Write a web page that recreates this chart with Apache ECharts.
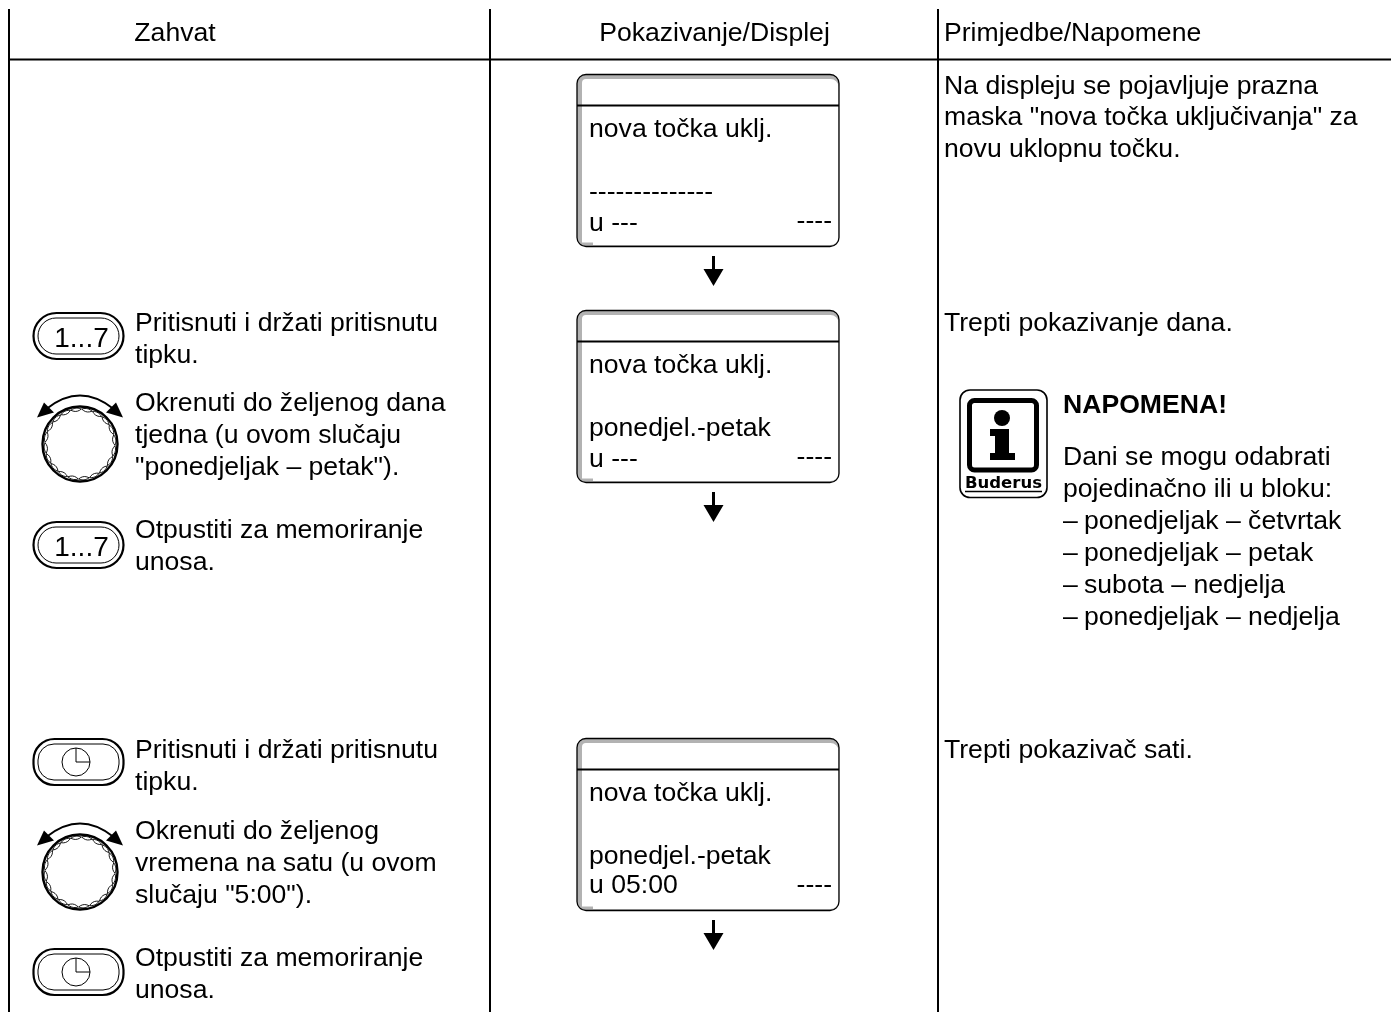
<!DOCTYPE html>
<html>
<head>
<meta charset="utf-8">
<style>html,body{margin:0;padding:0;background:#fff}#c{width:1391px;height:1012px}</style>
<script src="https://cdn.jsdelivr.net/npm/echarts@6/dist/echarts.min.js"></script>
</head>
<body>
<div id="c"></div>
<script>
const headers = ['Zahvat', 'Pokazivanje/Displej', 'Primjedbe/Napomene'];
const step1Press = ['Pritisnuti i držati pritisnutu', 'tipku.'];
const step1Turn = ['Okrenuti do željenog dana', 'tjedna (u ovom slučaju', '"ponedjeljak – petak").'];
const step1Release = ['Otpustiti za memoriranje', 'unosa.'];
const step2Turn = ['Okrenuti do željenog', 'vremena na satu (u ovom', 'slučaju "5:00").'];
const display1 = ['nova točka uklj.', '--------------', 'u ---', '----'];
const display2 = ['nova točka uklj.', 'ponedjel.-petak', 'u ---', '----'];
const display3 = ['nova točka uklj.', 'ponedjel.-petak', 'u 05:00', '----'];
const note1 = ['Na displeju se pojavljuje prazna', 'maska "nova točka uključivanja" za', 'novu uklopnu točku.'];
const note2 = ['Trepti pokazivanje dana.'];
const note3 = ['Trepti pokazivač sati.'];
const noteTitle = 'NAPOMENA!';
const noteBody = ['Dani se mogu odabrati', 'pojedinačno ili u bloku:'];
const noteList = ['ponedjeljak – četvrtak', 'ponedjeljak – petak', 'subota – nedjelja', 'ponedjeljak – nedjelja'];
const buttonLabel = '1...7';
const brand = 'Buderus';

const FONT = '"Liberation Sans", Arial, sans-serif';
const SIZE = 26.6;
const g = [];
function text(s, x, y, o) {
  o = o || {};
  g.push({type: 'text', z: 10, x: x, y: y + 2, style: {
    text: s, fill: '#000', font: (o.weight || 'normal') + ' ' + (o.size || SIZE) + 'px ' + (o.family || FONT),
    textAlign: o.align || 'left', textVerticalAlign: 'middle', verticalAlign: 'middle'
  }});
}
function lines(arr, x, ys) { arr.forEach((s, i) => text(s, x, ys[i])); }
function line(x1, y1, x2, y2, w) {
  g.push({type: 'line', z: 5, shape: {x1, y1, x2, y2}, style: {stroke: '#000', lineWidth: w || 1.5}});
}
function rrect(x, y, w, h, r, st) {
  g.push({type: 'rect', z: st.z || 4, shape: {x, y, width: w, height: h, r}, style: st});
}

/* table frame */
line(9, 9, 9, 1012, 2);
line(490, 9, 490, 1012, 2);
line(938, 9, 938, 1012, 2);
line(8, 59.5, 1391, 59.5, 2);
text(headers[0], 175, 32, {align: 'center'});
text(headers[1], 714.5, 32, {align: 'center'});
text(headers[2], 944, 32);

/* button frame */
function button(y, r1, r2) {
  rrect(33.5, y, 90, 46, r1, {fill: '#fff', stroke: '#000', lineWidth: 2.2});
  rrect(38, y + 5, 81, 36, r2, {fill: 'none', stroke: '#000', lineWidth: 1, z: 5});
}
function numButton(y) {
  button(y, 23, 18);
  text(buttonLabel, 81.5, y + 24, {align: 'center', size: 28});
}
function clockButton(y) {
  button(y, 21, 16);
  const cy = y + 23;
  g.push({type: 'circle', z: 6, shape: {cx: 76, cy, r: 14}, style: {fill: 'none', stroke: '#000', lineWidth: 1}});
  g.push({type: 'polyline', z: 6, shape: {points: [[76, cy - 14], [76, cy], [90, cy]]}, style: {fill: 'none', stroke: '#000', lineWidth: 1}});
}
/* rotary knob */
function knob(cy) {
  const cx = 80, R = 37.5, n = 20;
  g.push({type: 'circle', z: 4, shape: {cx, cy, r: R}, style: {fill: '#fff', stroke: '#000', lineWidth: 2.4}});
  const pt = (r, a) => [cx + r * Math.cos(a), cy + r * Math.sin(a)];
  const q = (p0, c, p1, t) => [0, 1].map(k => (1 - t) * (1 - t) * p0[k] + 2 * t * (1 - t) * c[k] + t * t * p1[k]);
  for (let i = 0; i < n; i++) {
    const a0 = i / n * 2 * Math.PI + 0.05, a1 = a0 + 2 * Math.PI / n * 0.96, m = (a0 + a1) / 2;
    const p0 = pt(35, a0), p1 = pt(35, a1), co = pt(37.6, m), ci = pt(31, m);
    const points = [];
    for (let k = 0; k <= 5; k++) points.push(q(p0, co, p1, k / 5));
    for (let k = 5; k >= 0; k--) points.push(q(p0, ci, p1, k / 5));
    g.push({type: 'polygon', z: 5, shape: {points}, style: {fill: '#fff', stroke: '#000', lineWidth: 0.9}});
  }
  const tip = cy - 26.5;
  g.push({type: 'bezierCurve', z: 5, shape: {x1: 47, y1: tip - 9, x2: 113, y2: tip - 9, cpx1: 80, cpy1: tip - 35}, style: {fill: 'none', stroke: '#000', lineWidth: 2}});
  g.push({type: 'polygon', z: 5, shape: {points: [[37, tip], [44, tip - 15], [54, tip - 5]]}, style: {fill: '#000'}});
  g.push({type: 'polygon', z: 5, shape: {points: [[123, tip], [116, tip - 15], [106, tip - 5]]}, style: {fill: '#000'}});
}
/* display panel */
function display(y, d, valueRow) {
  const x = 577, w = 262, h = 172;
  rrect(x, y, w, h, 9, {fill: '#b2b2b2', stroke: 'none', z: 2});
  g.push({type: 'rect', z: 3, shape: {x: x + 5, y: y + 4.5, width: w - 5.5, height: h - 6, r: [4, 8, 8, 0]}, style: {fill: '#fff'}});
  g.push({type: 'rect', z: 3, shape: {x: x + 3, y: y + h - 4, width: 13, height: 3}, style: {fill: '#b2b2b2'}});
  rrect(x, y, w, h, 9, {fill: 'none', stroke: '#000', lineWidth: 1.3, z: 6});
  line(x, y + 31, x + w, y + 31, 2);
  text(d[0], 589, y + 53.5);
  text(d[1], 589, y + 116);
  text(d[2], 589, y + valueRow);
  text(d[3], 832, y + 145, {align: 'right'});
}
function arrow(y) {
  line(713.5, y, 713.5, y + 14, 3);
  g.push({type: 'polygon', z: 5, shape: {points: [[703.5, y + 13], [723.5, y + 13], [713.5, y + 30]]}, style: {fill: '#000'}});
}
/* info icon */
function infoIcon() {
  rrect(960, 390, 87, 107.5, 10, {fill: '#fff', stroke: '#000', lineWidth: 1.6});
  rrect(969.5, 400.5, 67, 69.5, 5, {fill: 'none', stroke: '#000', lineWidth: 5, z: 5});
  g.push({type: 'circle', z: 5, shape: {cx: 1002, cy: 418, r: 8}, style: {fill: '#000'}});
  g.push({type: 'polygon', z: 5, shape: {points: [[990, 429], [1009, 429], [1009, 453], [1015, 453], [1015, 460], [990, 460], [990, 453], [995, 453], [995, 436], [990, 436]]}, style: {fill: '#000'}});
  text(brand, 1003.5, 482, {size: 16.5, weight: 'bold', align: 'center', family: '"DejaVu Sans", sans-serif'});
  line(965, 491.5, 1042, 491.5, 1.4);
}

numButton(313);
knob(444);
numButton(522);
lines(step1Press, 135, [322, 354]);
lines(step1Turn, 135, [402, 434, 466]);
lines(step1Release, 135, [529, 561]);

clockButton(739);
knob(872);
clockButton(949);
lines(step1Press, 135, [749, 781]);
lines(step2Turn, 135, [830, 862, 894]);
lines(step1Release, 135, [957, 989]);

display(74.5, display1, 147);
arrow(256);
display(310.5, display2, 147);
arrow(492);
display(738.5, display3, 145.5);
arrow(920);

lines(note1, 944, [85, 116, 148]);
lines(note2, 944, [322]);
lines(note3, 944, [749]);
infoIcon();
text(noteTitle, 1063, 404, {weight: 'bold', size: 26.6});
lines(noteBody, 1063, [456, 488]);
noteList.forEach((s, i) => {
  const y = 520 + i * 32;
  text('–', 1063, y);
  text(s, 1084, y);
});

const chart = echarts.init(document.getElementById('c'), null, {renderer: 'canvas'});
chart.setOption({animation: false, backgroundColor: '#fff', graphic: {elements: g}});
</script>
</body>
</html>
